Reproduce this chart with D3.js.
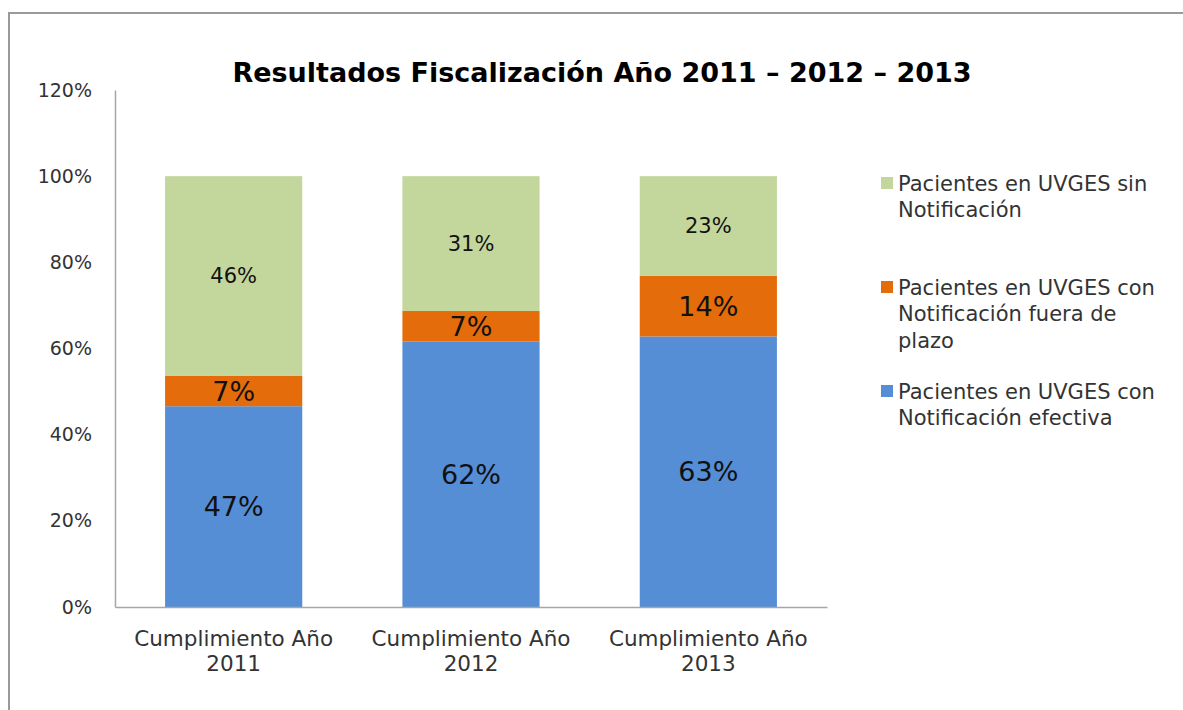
<!DOCTYPE html>
<html>
<head>
<meta charset="utf-8">
<script src="https://cdn.jsdelivr.net/npm/d3@7"></script>
<style>
  body { margin: 0; background: #fff; }
  text { font-family: "DejaVu Sans", Verdana, sans-serif; fill: #222; }
</style>
</head>
<body>
<svg id="svg" width="1183" height="710"></svg>
<script>
// data
var categories = ["Cumplimiento Año 2011", "Cumplimiento Año 2012", "Cumplimiento Año 2013"];
var efectiva = [0.466, 0.616, 0.628];     // azul
var fueraPlazo = [0.071, 0.071, 0.141];   // naranja
var sinNotif = [0.463, 0.313, 0.231];     // verde
var yTicks = [0, 0.2, 0.4, 0.6, 0.8, 1.0, 1.2];
var legendLines = [["Pacientes en UVGES sin", "Notificación"],
                   ["Pacientes en UVGES con", "Notificación fuera de", "plazo"],
                   ["Pacientes en UVGES con", "Notificación efectiva"]];

const color = {efectiva: "#558ed5", fuera: "#e46c0a", sin: "#c3d69b"};

var svg = d3.select("#svg");

// outer frame
svg.append("rect")
    .attr("x", 9).attr("y", 13)
    .attr("width", 1190).attr("height", 720)
    .attr("fill", "none")
    .attr("stroke", "#9a9a9a")
    .attr("stroke-width", 2);

var margin = {top: 90, left: 115},
    width = 712,
    height = 517;

var g = svg.append("g").attr("transform", "translate(" + margin.left + "," + margin.top + ")");

var x = d3.scaleBand().domain(categories).range([0, width]).paddingInner(0.422).paddingOuter(0.211);
var y = d3.scaleLinear().domain([0, 1.2]).range([height, 0]);

var table = categories.map((c, i) => ({cat: c, efectiva: efectiva[i], fuera: fueraPlazo[i], sin: sinNotif[i]}));
var keys = ["efectiva", "fuera", "sin"];
var stack = d3.stack().keys(keys)(table);

var layers = g.selectAll(".layer").data(stack).enter().append("g")
    .attr("class", "layer")
    .attr("fill", d => color[d.key]);

layers.selectAll("rect").data(d => d).enter().append("rect")
    .attr("x", d => x(d.data.cat))
    .attr("y", d => y(d[1]))
    .attr("width", x.bandwidth())
    .attr("height", d => y(d[0]) - y(d[1]));

// data labels
var fontSize = {efectiva: 27, fuera: 27, sin: 21};
layers.each(function(layer) {
    d3.select(this).selectAll("text.lbl").data(layer).enter().append("text")
        .attr("class", "lbl")
        .attr("x", d => x(d.data.cat) + x.bandwidth() / 2)
        .attr("y", d => (y(d[0]) + y(d[1])) / 2)
        .attr("dy", "0.36em")
        .attr("text-anchor", "middle")
        .style("font-size", fontSize[layer.key] + "px")
        .style("fill", "#111")
        .text(d => Math.round((d[1] - d[0]) * 100) + "%");
});

// axes
var yAxis = d3.axisLeft(y).tickValues(yTicks).tickFormat(d3.format(".0%")).tickSize(0).tickPadding(23);
var ya = g.append("g").attr("class", "axis").call(yAxis);
ya.select(".domain").attr("stroke", "#a6a6a6").attr("stroke-width", 1.5);
ya.selectAll("text").style("font-size", "19px").style("fill", "#333").style("font-family", "DejaVu Sans");

var xa = g.append("g").attr("transform", "translate(0," + height + ")")
    .call(d3.axisBottom(x).tickSize(0).tickFormat(""));
xa.select(".domain").attr("stroke", "#a6a6a6").attr("stroke-width", 1.5);

// category labels on two lines
categories.forEach(function(c) {
    var parts = c.split(" ");
    var cx = x(c) + x.bandwidth() / 2;
    var t = g.append("text")
        .attr("x", cx)
        .attr("y", height + 39)
        .attr("text-anchor", "middle")
        .style("font-size", "21.5px")
        .style("fill", "#333");
    t.append("tspan").attr("x", cx).text(parts.slice(0, 2).join(" "));
    t.append("tspan").attr("x", cx).attr("dy", 25).text(parts[2]);
});

// title
svg.append("text")
    .attr("x", 602).attr("y", 82)
    .attr("text-anchor", "middle")
    .style("font-size", "27px")
    .style("font-weight", "bold")
    .style("fill", "#000")
    .text("Resultados Fiscalización Año 2011 – 2012 – 2013");

// legend
var legendColors = [color.sin, color.fuera, color.efectiva];
var legendTop = [183, 287, 391];
var legend = svg.append("g");
legendLines.forEach(function(lines, i) {
    legend.append("rect")
        .attr("x", 881).attr("y", legendTop[i] - 6)
        .attr("width", 12).attr("height", 12)
        .attr("fill", legendColors[i]);
    var t = legend.append("text")
        .attr("y", legendTop[i])
        .style("font-size", "21px")
        .style("fill", "#333");
    lines.forEach(function(l, j) {
        t.append("tspan").attr("x", 898).attr("dy", j === 0 ? "0.36em" : 26.5).text(l);
    });
});
</script>
</body>
</html>
